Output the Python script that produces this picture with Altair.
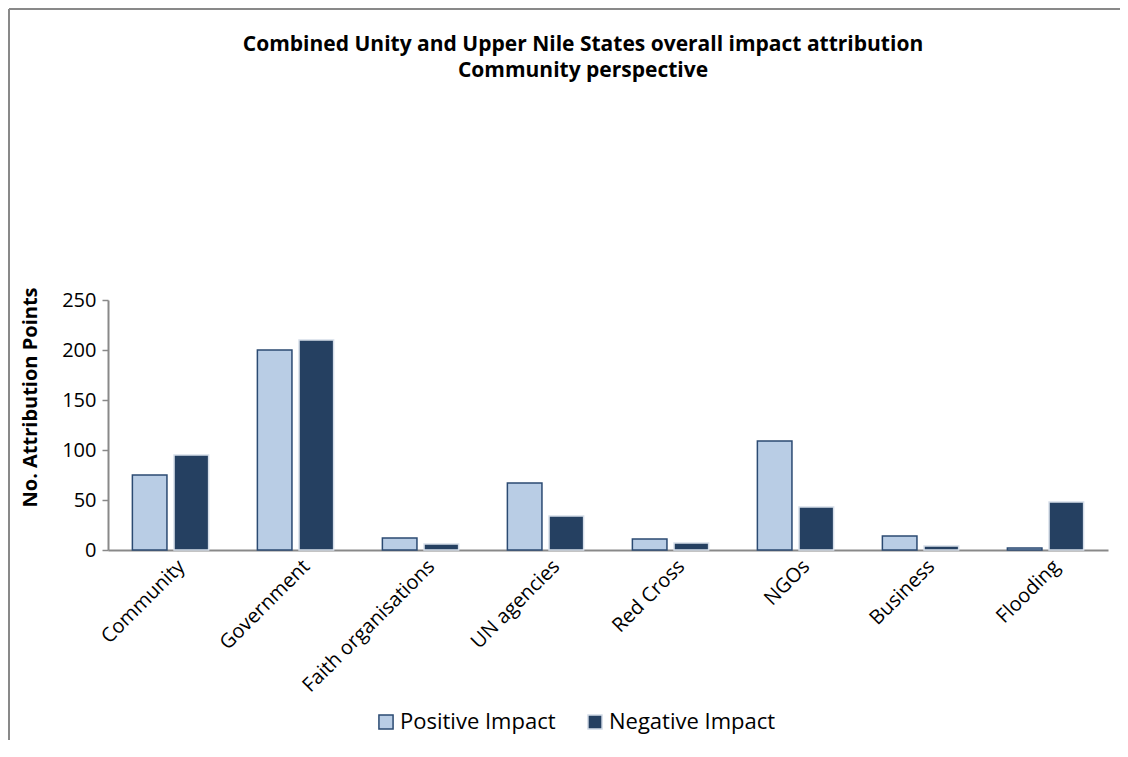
import altair as alt
import pandas as pd

categories = ["Community", "Government", "Faith organisations", "UN agencies",
              "Red Cross", "NGOs", "Business", "Flooding"]
positive = [75, 200, 12, 67, 11, 109, 14, 2]
negative = [95, 210, 6, 34, 7, 43, 4, 48]
series = ["Positive Impact", "Negative Impact"]
y_ticks = [0, 50, 100, 150, 200, 250]

rows = []
for c, p, n in zip(categories, positive, negative):
    rows.append({"category": c, "series": series[0], "value": p})
    rows.append({"category": c, "series": series[1], "value": n})
df = pd.DataFrame(rows)

FONT = "Open Sans"
GRAY = "#898989"

bars = alt.Chart(df).mark_bar(strokeWidth=1.5).encode(
    x=alt.X("category:N", sort=categories, title=None,
            scale=alt.Scale(paddingInner=0.39, paddingOuter=0.195),
            axis=alt.Axis(labelAngle=-45, labelFontSize=20, labelFont=FONT,
                          labelColor="black", ticks=False, domainColor=GRAY,
                          domainWidth=2, labelPadding=6, labelAlign="right",
                          labelBaseline="top", labelOffset=4)),
    xOffset=alt.XOffset("series:N", sort=series,
                        scale=alt.Scale(paddingInner=0.17, paddingOuter=0)),
    y=alt.Y("value:Q", title="No. Attribution Points",
            scale=alt.Scale(domain=[0, 250], nice=False),
            axis=alt.Axis(values=y_ticks, grid=False, labelFontSize=20,
                          labelFont=FONT, labelColor="black", domainColor=GRAY,
                          domainWidth=2, tickColor=GRAY, tickSize=6, tickWidth=1.5,
                          labelPadding=6, titleFontSize=20, titleFont=FONT,
                          titleFontWeight="bold", titleColor="black",
                          titleX=-78, titleY=97, titleBaseline="middle",
                          titleAngle=270)),
    color=alt.Color("series:N", sort=series,
                    scale=alt.Scale(domain=series, range=["#B9CDE5", "#254061"]),
                    legend=alt.Legend(title=None, orient="none", legendX=267,
                                      legendY=411, direction="horizontal",
                                      symbolType="square", symbolSize=200,
                                      symbolStrokeWidth=1.5, labelLimit=0,
                                      labelFontSize=22, labelFont=FONT,
                                      labelColor="black", columnPadding=28,
                                      labelOffset=3)),
    stroke=alt.Stroke("series:N", sort=series,
                      scale=alt.Scale(domain=series, range=["#2B4A72", "#D6DEE9"]),
                      legend=None),
)

frame_top = alt.Chart(df).mark_rule(color=GRAY, strokeWidth=2).encode(
    x=alt.value(-99), x2=alt.value(1012), y=alt.value(-291))
frame_left = alt.Chart(df).mark_rule(color=GRAY, strokeWidth=2).encode(
    x=alt.value(-99), y=alt.value(-291), y2=alt.value(440))

chart = alt.layer(frame_top, frame_left, bars).properties(
    width=1000, height=250,
    autosize=alt.AutoSizeParams(type="none"),
    padding={"left": 100, "top": 292, "right": 12, "bottom": 190},
    title=alt.Title(["Combined Unity and Upper Nile States overall impact attribution",
                     "Community perspective"],
                    fontSize=21, font=FONT, fontWeight="bold", color="black",
                    anchor="middle", dx=-25, offset=-73, lineHeight=26),
).configure(background="white").configure_view(strokeWidth=0, stroke="transparent")

chart.save("out.html", embed_options={"renderer": "svg", "actions": False})
